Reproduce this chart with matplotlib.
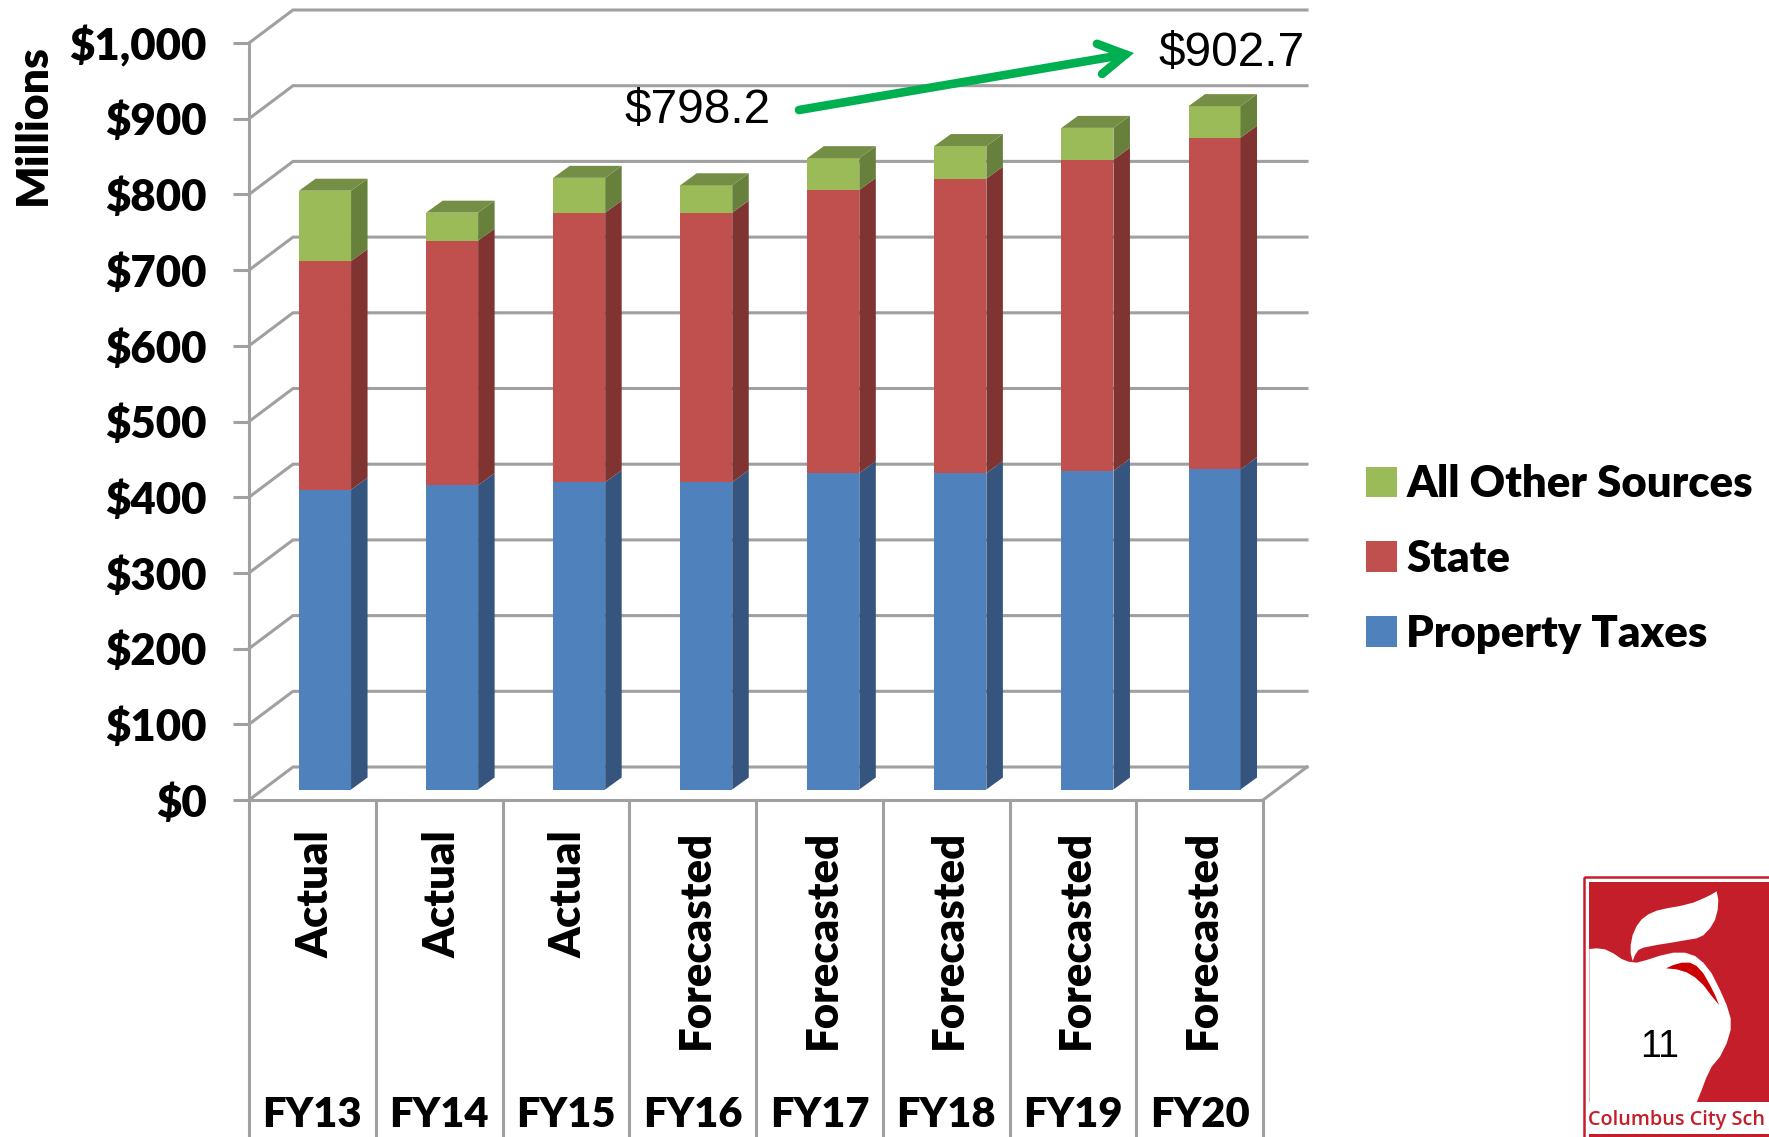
import numpy as np
import matplotlib
matplotlib.use("Agg")
import matplotlib.pyplot as plt
from matplotlib.patches import Polygon, Rectangle, Patch

years = ["FY13", "FY14", "FY15", "FY16", "FY17", "FY18", "FY19", "FY20"]
status = ["Actual", "Actual", "Actual", "Forecasted", "Forecasted", "Forecasted", "Forecasted", "Forecasted"]
property_taxes = [396, 402, 406, 406, 418, 418, 421, 423]
state = [302, 323, 356, 356, 374, 389, 411, 438]
other = [93, 37, 46, 36.2, 42, 43, 42, 41.7]
y_ticks = list(range(0, 1001, 100))
y_labels = ["$0", "$100", "$200", "$300", "$400", "$500", "$600", "$700", "$800", "$900", "$1,000"]

W, H = 1769, 1137
X0, X1, Y0, Y1 = 249, 1263, 800, 43
SX = (X1 - X0) / 8          # px per category
SY = (Y0 - Y1) / 1000       # px per unit
WALL_DX, WALL_DY = 44 / SX, 33 / SY
BAR_DX, BAR_DY = 16.5 / SX, 12 / SY
LIFT = 10.5 / SY
BAR_W = 52 / SX
GRID = "#a0a0a0"
LW = 2.2
BOLD = dict(family="Lato", weight="heavy")

fig = plt.figure(figsize=(W / 100, H / 100), dpi=100, facecolor="white")
ax = fig.add_axes([X0 / W, 1 - Y0 / H, (X1 - X0) / W, (Y0 - Y1) / H], facecolor="none")
ax.set_xlim(0, 8)
ax.set_ylim(0, 1000)
for s in ["top", "right"]:
    ax.spines[s].set_visible(False)
for s in ["left", "bottom"]:
    ax.spines[s].set_color(GRID)
    ax.spines[s].set_linewidth(LW)

# walls
for v in y_ticks:
    ax.plot([0, WALL_DX, 8 + WALL_DX], [v, v + WALL_DY, v + WALL_DY], color=GRID, lw=LW,
            clip_on=False, zorder=1, solid_joinstyle="miter")
ax.plot([8, 8 + WALL_DX], [0, WALL_DY], color=GRID, lw=LW, clip_on=False, zorder=1)

# bars
colors = [("#4f81bd", "#35557e"), ("#c0504d", "#7f3432"), ("#9bbb59", "#67803c")]
top_color = "#748e45"
centers = 0.6 + np.arange(8) * 1.0025
bottom = np.full(8, LIFT)
for vals, (front, side) in zip([property_taxes, state, other], colors):
    vals = np.array(vals, dtype=float)
    ax.bar(centers, vals, BAR_W, bottom=bottom, color=front, zorder=3, clip_on=False)
    for c, b, v in zip(centers, bottom, vals):
        r = c + BAR_W / 2
        ax.add_patch(Polygon([(r, b), (r + BAR_DX, b + BAR_DY), (r + BAR_DX, b + v + BAR_DY), (r, b + v)],
                             closed=True, fc=side, ec="none", zorder=3, clip_on=False))
    bottom = bottom + vals
for c, t in zip(centers, bottom):
    l, r = c - BAR_W / 2, c + BAR_W / 2
    ax.add_patch(Polygon([(l, t), (r, t), (r + BAR_DX, t + BAR_DY), (l + BAR_DX, t + BAR_DY)],
                         closed=True, fc=top_color, ec="none", zorder=3, clip_on=False))

# y axis
ax.set_yticks(y_ticks, y_labels, fontsize=31.5, **BOLD)
ax.tick_params(axis="y", length=11.5, width=LW, color=GRID, pad=19)
ax.set_ylabel("Millions", fontsize=32, **BOLD)
ax.yaxis.set_label_coords((53 - X0) / (X1 - X0), (Y0 - 125) / (Y0 - Y1))

# x axis: two-level categories
ax.set_xticks(np.arange(8) + 0.5, years, fontsize=30, **BOLD)
ax.tick_params(axis="x", length=0, pad=213)
trans = ax.get_xaxis_transform()
for i in range(9):
    ax.plot([i, i], [0, -(H - Y0) / (Y0 - Y1)], transform=trans, color=GRID, lw=LW, clip_on=False, zorder=1)
for i, s in enumerate(status):
    ax.text(i + 0.525, -30 / (Y0 - Y1), s, transform=trans, rotation=90, ha="center", va="top",
            fontsize=31.4, clip_on=False, **BOLD)

# legend
handles = [Patch(fc=colors[2][0], label="All Other Sources"),
           Patch(fc=colors[1][0], label="State"),
           Patch(fc=colors[0][0], label="Property Taxes")]
leg = fig.legend(handles=handles, loc="center left", bbox_to_anchor=(1366 / W, 1 - 559 / H), frameon=False,
                 prop={"family": "Lato", "weight": "heavy", "size": 31.4},
                 handlelength=0.7, handleheight=0.7, handletextpad=0.22, labelspacing=0.8,
                 borderpad=0, borderaxespad=0)

# page overlay
page = fig.add_axes([0, 0, 1, 1], facecolor="none", zorder=5)
page.set_xlim(0, W)
page.set_ylim(H, 0)
page.axis("off")
AR = "Liberation Sans"
page.text(618.5 * 1.128, 98 * 1.128, "$798.2", family=AR, fontsize=34.4, ha="center", va="center")
page.text(1092 * 1.128, 47 * 1.128, "$902.7", family=AR, fontsize=34.4, ha="center", va="center")
page.annotate("", xy=(1134, 53), xytext=(799, 110),
              arrowprops=dict(arrowstyle="->,head_length=1.9,head_width=1.1", color="#00b050", lw=6.2,
                              shrinkA=0, shrinkB=0, joinstyle="miter"))


def zoomed(zpts):
    return [(1540 + x / 3, 850 + y / 3) for x, y in zpts]


LOGO = "#c41e2a"
page.add_patch(Rectangle((1584, 877), 190, 270, fc="none", ec=LOGO, lw=1.8))
page.add_patch(Rectangle((1589, 882), 190, 220, fc=LOGO, ec="none"))
apple = [(148, 297), (170, 295), (195, 298), (220, 310), (245, 327), (265, 335), (290, 338), (320, 330), (360, 317),
         (400, 308), (435, 308), (465, 318), (490, 338), (515, 370), (540, 420), (560, 465), (572, 505), (572, 540),
         (560, 580), (540, 620), (515, 650), (498, 685), (485, 720), (470, 757), (148, 757)]
page.add_patch(Polygon(zoomed(apple), fc="white", ec="none"))
leaf = [(278, 333), (272, 310), (272, 285), (278, 255), (290, 228), (305, 208), (325, 193), (350, 182), (380, 175),
        (420, 168), (460, 158), (495, 143), (515, 133), (530, 124), (535, 150), (533, 180), (525, 210), (510, 235),
        (490, 256), (470, 265), (440, 270), (400, 277), (350, 285), (310, 293), (295, 300), (285, 315)]
page.add_patch(Polygon(zoomed(leaf), fc="white", ec="none"))
inner = [(378, 355), (400, 345), (425, 338), (450, 338), (470, 348), (490, 370), (510, 405), (525, 435), (537, 465),
         (515, 438), (490, 405), (465, 382), (440, 367), (410, 358)]
page.add_patch(Polygon(zoomed(inner), fc="#cc0000", ec="none"))
page.add_patch(Rectangle((1589, 1134), 190, 6, fc=LOGO, ec="none"))
page.text(1588, 1120, "Columbus City Sch", color=LOGO, family="Open Sans", weight="semibold",
          fontsize=14.3, ha="left", va="center")
page.text(1660, 1047, "11", family=AR, fontsize=27, ha="center", va="center")

fig.savefig("out.png", dpi=100)
